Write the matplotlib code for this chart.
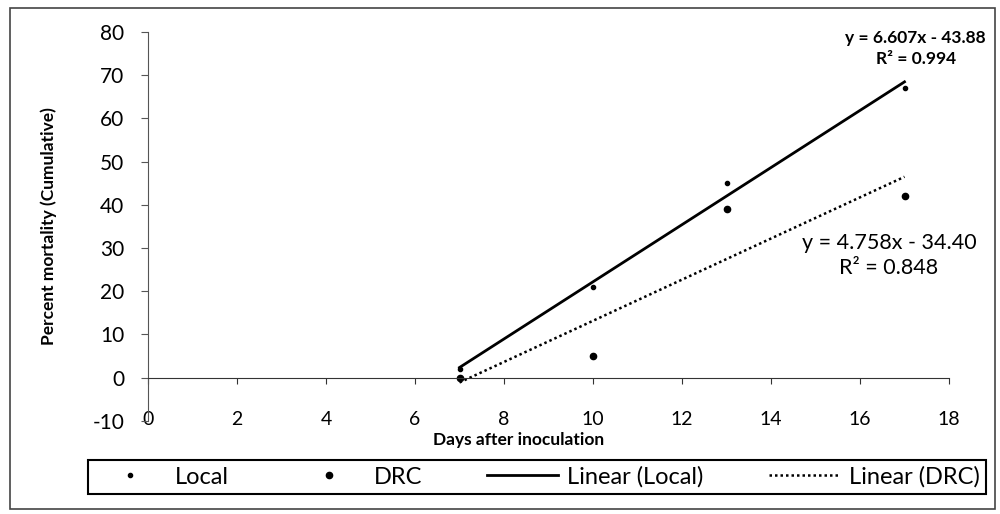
import matplotlib.pyplot as plt
from matplotlib.patches import Rectangle
import numpy as np

plt.rcParams['font.family'] = ['Lato', 'DejaVu Sans']
plt.rcParams['axes.unicode_minus'] = False

# Data
days = np.array([7, 10, 13, 17])
local = np.array([2, 21, 45, 67])
drc = np.array([0, 5, 39, 42])
x_ticks = [0, 2, 4, 6, 8, 10, 12, 14, 16, 18]
y_ticks = [-10, 0, 10, 20, 30, 40, 50, 60, 70, 80]
eq_local = 'y = 6.607x - 43.88\nR² = 0.994'
eq_drc = 'y = 4.758x - 34.40\nR² = 0.848'

fig = plt.figure(figsize=(10, 5.14), dpi=100)
ax = fig.add_axes([0.148, 0.181, 0.801, 0.757])

# scatter points
ax.plot(days, local, linestyle='none', marker='.', markersize=6, color='black', label='Local')
ax.plot(days, drc, linestyle='none', marker='o', markersize=4.5, color='black', label='DRC')

# linear trendlines
m1, b1 = np.polyfit(days, local, 1)
m2, b2 = np.polyfit(days, drc, 1)
xl = np.array([days.min(), days.max()])
ax.plot(xl, m1 * xl + b1, color='black', lw=2, label='Linear (Local)')
ax.plot(xl, m2 * xl + b2, color='black', lw=1.8, linestyle=(0, (1, 1.2)), label='Linear (DRC)')

ax.text(17.25, 76.2, eq_local, ha='center', va='center',
        fontsize=12.5, fontweight='bold', linespacing=1.35)
ax.text(16.65, 28.3, eq_drc, ha='center', va='center',
        fontsize=15.5, linespacing=1.3)

# Excel-style axes: horizontal axis at y=0, labels at the bottom
ax.set_xlim(0, 18)
ax.set_ylim(-10, 80)
ax.set_xticks(x_ticks)
ax.set_yticks(y_ticks)
for s in ['top', 'right']:
    ax.spines[s].set_visible(False)
ax.spines['bottom'].set_position(('data', 0))
ax.spines['bottom'].set_color('#333333')
ax.spines['left'].set_color('#555555')
ax.tick_params(axis='x', direction='out', length=4, pad=20, labelsize=14, color='#333333')
ax.tick_params(axis='y', direction='out', length=5, pad=12, labelsize=15, color='#555555')

ax.set_ylabel('Percent mortality (Cumulative)', fontsize=12.5, fontweight='bold')
ax.yaxis.set_label_coords(-0.113, 0.5)
fig.text(0.519, 0.144, 'Days after inoculation', ha='center', va='center', fontsize=12.5, fontweight='bold')

# legend at bottom
leg = fig.legend(loc='center', ncol=4, bbox_to_anchor=(0.537, 0.072),
                 fontsize=17, frameon=True, fancybox=False, edgecolor='black', framealpha=1,
                 handlelength=3.0, handletextpad=0.4, columnspacing=2.75,
                 borderpad=0.25, borderaxespad=0)
leg.get_frame().set_linewidth(1.5)

# chart border
fig.patches.append(Rectangle((0.01, 0.01), 0.985, 0.975, transform=fig.transFigure,
                             fill=False, edgecolor='#444444', lw=1.2))

fig.savefig('out.png', dpi=100)
